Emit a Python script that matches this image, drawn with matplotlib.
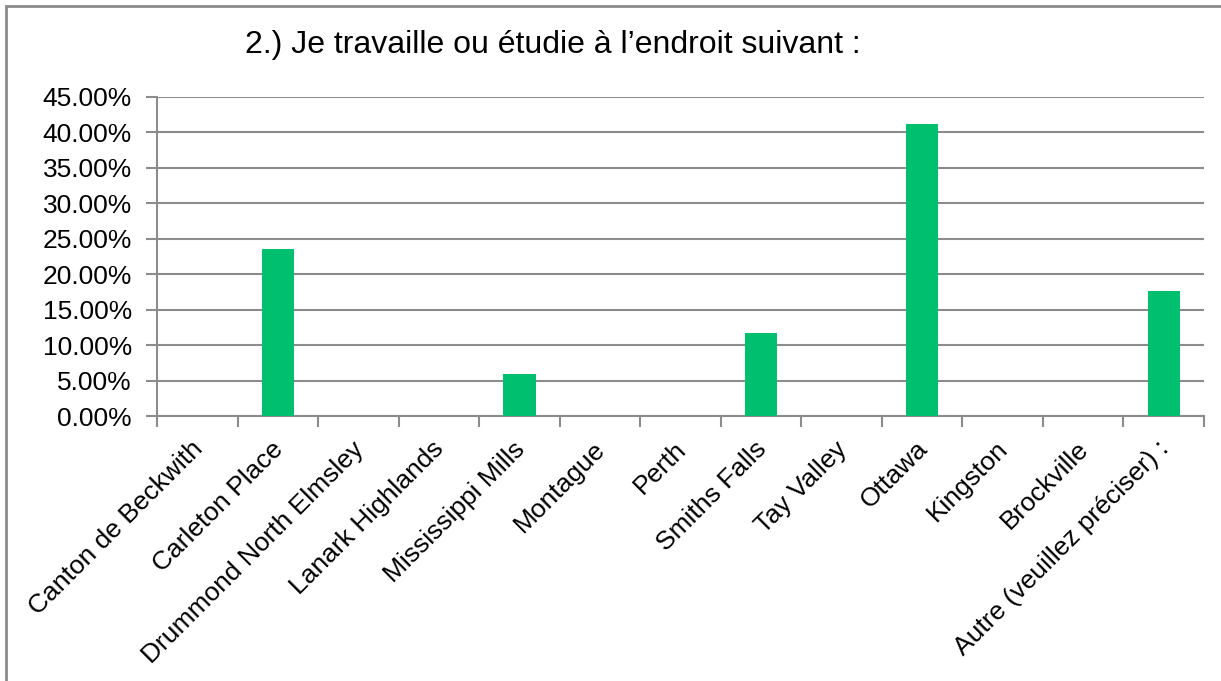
import matplotlib
matplotlib.use("Agg")
import matplotlib.pyplot as plt
from matplotlib.patches import Rectangle
from matplotlib.ticker import FuncFormatter, FixedLocator
from matplotlib.transforms import ScaledTranslation
import numpy as np

categories = [
    "Canton de Beckwith",
    "Carleton Place",
    "Drummond North Elmsley",
    "Lanark Highlands",
    "Mississippi Mills",
    "Montague",
    "Perth",
    "Smiths Falls",
    "Tay Valley",
    "Ottawa",
    "Kingston",
    "Brockville",
    "Autre (veuillez préciser) :",
]
values = [0.0, 23.53, 0.0, 0.0, 5.88, 0.0, 0.0, 11.76, 0.0, 41.18, 0.0, 0.0, 17.65]
yticks = [0, 5, 10, 15, 20, 25, 30, 35, 40, 45]
title = "2.) Je travaille ou étudie à l’endroit suivant :"

plt.rcParams["font.family"] = ["Liberation Sans", "DejaVu Sans"]
grey = "#8c8c8c"

fig = plt.figure(figsize=(12.21, 6.81), dpi=100)
ax = fig.add_axes([157 / 1221, 1 - 416 / 681, (1204 - 157) / 1221, (416 - 97) / 681])

x = np.arange(len(categories))
ax.bar(x, values, width=0.4, color="#00BF6F", zorder=3)

ax.set_xlim(-0.5, len(categories) - 0.5)
ax.set_ylim(0, 45)
ax.set_yticks(yticks)
ax.yaxis.set_major_formatter(FuncFormatter(lambda v, p: f"{v:.2f}%"))
ax.grid(axis="y", color=grey, linewidth=1.5, zorder=0)

# category labels sit between the boundary ticks
ax.set_xticks(x)
ax.set_xticklabels(categories, rotation=45, ha="right", va="top",
                   rotation_mode="anchor", fontsize=19)
ax.tick_params(axis="x", length=0, pad=15)
ax.xaxis.set_minor_locator(FixedLocator(np.arange(-0.5, len(categories), 1)))
ax.tick_params(axis="x", which="minor", length=8, width=1.5, color=grey)
ax.tick_params(axis="y", length=8, width=1.5, color=grey, labelsize=19, pad=10)

# nudge the rotated labels a little to the left
shift = ScaledTranslation(-7 / 100, 0, fig.dpi_scale_trans)
for lab in ax.get_xticklabels():
    lab.set_transform(lab.get_transform() + shift)

for side in ("top", "right"):
    ax.spines[side].set_visible(False)
for side in ("left", "bottom"):
    ax.spines[side].set_color(grey)
    ax.spines[side].set_linewidth(1.5)

fig.text(553 / 1221, 1 - 45 / 681, title, ha="center", va="center", fontsize=23)

# chart frame, open on the right and bottom edges
fig.patches.append(Rectangle((6 / 1221, -0.05), 1.1, 1 - 6 / 681 + 0.05,
                             transform=fig.transFigure, fill=False,
                             edgecolor=grey, linewidth=2))

fig.savefig("out.png", dpi=100)
